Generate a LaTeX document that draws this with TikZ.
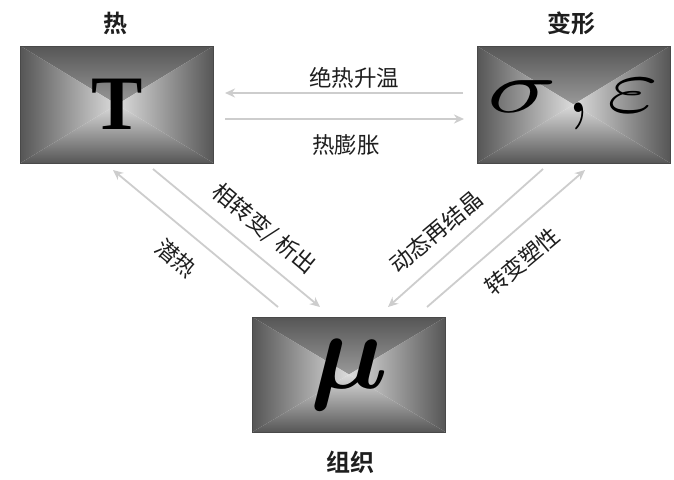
\documentclass[tikz,border=0pt]{standalone}
\usepackage{fontspec}
\usepackage{bm}
\usepackage{graphicx}
\usetikzlibrary{arrows.meta}
\newfontfamily\cjk[BoldFont={Noto Sans CJK SC Bold}]{Noto Sans CJK SC}
\newfontfamily\tnr{Liberation Serif}
\definecolor{edgegray}{HTML}{565656}
\definecolor{midgray}{HTML}{DCDCDC}
\definecolor{arrowgray}{HTML}{CDCDCD}
\definecolor{textgray}{HTML}{1E1E1E}
\tikzset{
  pyrbox/.style={rectangle, inner sep=0pt, minimum width=193pt, minimum height=117pt,
    draw=edgegray!85!black, line width=0.6pt,
    path picture={
      \shade[top color=edgegray, bottom color=midgray]
        (path picture bounding box.north west) -- (path picture bounding box.north east)
        -- (path picture bounding box.center) -- cycle;
      \shade[top color=midgray, bottom color=edgegray]
        (path picture bounding box.south west) -- (path picture bounding box.south east)
        -- (path picture bounding box.center) -- cycle;
      \shade[left color=edgegray, right color=midgray]
        (path picture bounding box.north west) -- (path picture bounding box.south west)
        -- (path picture bounding box.center) -- cycle;
      \shade[left color=midgray, right color=edgegray]
        (path picture bounding box.north east) -- (path picture bounding box.south east)
        -- (path picture bounding box.center) -- cycle;
    }},
  title/.style={font=\cjk\bfseries\fontsize{24}{24}\selectfont, text=textgray, inner sep=0pt},
  lbl/.style={font=\cjk\fontsize{22.5}{22.5}\selectfont, text=textgray, inner sep=0pt},
  flow/.style={draw=arrowgray, line width=1.8pt, -{Stealth[length=10pt,width=9pt]}}
}
\begin{document}
\begin{tikzpicture}[x=1pt, y=-1pt]
  \useasboundingbox[fill=white] (0,0) rectangle (674,479);

  % boxes
  \node[pyrbox] (T) at (117,104.5) {\tnr\bfseries\fontsize{77}{77}\selectfont T};
  \node[pyrbox] (S) at (573.5,104.5)
    {\raisebox{-6pt}{\scalebox{11.5}[7.4]{$\sigma$}\hspace{10pt}\scalebox{8}[9]{$,$}\hspace{18pt}\scalebox{11}[7.8]{$\varepsilon$}}};
  \node[pyrbox, minimum height=115pt] (M) at (349,374.5) {\scalebox{11}{$\bm{\mu}$}};

  % titles
  \node[title] (tT) at (115,23) {热};
  \node[title] (tS) at (571,23) {变形};
  \node[title] (tM) at (350,462) {组织};

  % arrow end points
  \coordinate (h1s) at (463,93);  \coordinate (h1e) at (225,93);
  \coordinate (h2s) at (225,119); \coordinate (h2e) at (464,119);
  \coordinate (d1s) at (278,307); \coordinate (d1e) at (113,170);
  \coordinate (d2s) at (153,169); \coordinate (d2e) at (320,307);
  \coordinate (d3s) at (543,169); \coordinate (d3e) at (388,307);
  \coordinate (d4s) at (427,307); \coordinate (d4e) at (585,170);

  \draw[flow] (h1s) -- (h1e);
  \draw[flow] (h2s) -- (h2e);
  \draw[flow] (d1s) -- (d1e);
  \draw[flow] (d2s) -- (d2e);
  \draw[flow] (d3s) -- (d3e);
  \draw[flow] (d4s) -- (d4e);

  % labels
  \node[lbl] (l1) at (354,78) {绝热升温};
  \node[lbl] (l2) at (346,145) {热膨胀};
  \node[lbl, rotate=-40] (l3) at (176,258) {潜热};
  \node[lbl, rotate=-40] (l4) at (264,229) {相转变/ 析出};
  \node[lbl, rotate=40] (l5) at (436,232) {动态再结晶};
  \node[lbl, rotate=40] (l6) at (522,261) {转变塑性};
\end{tikzpicture}
\end{document}
